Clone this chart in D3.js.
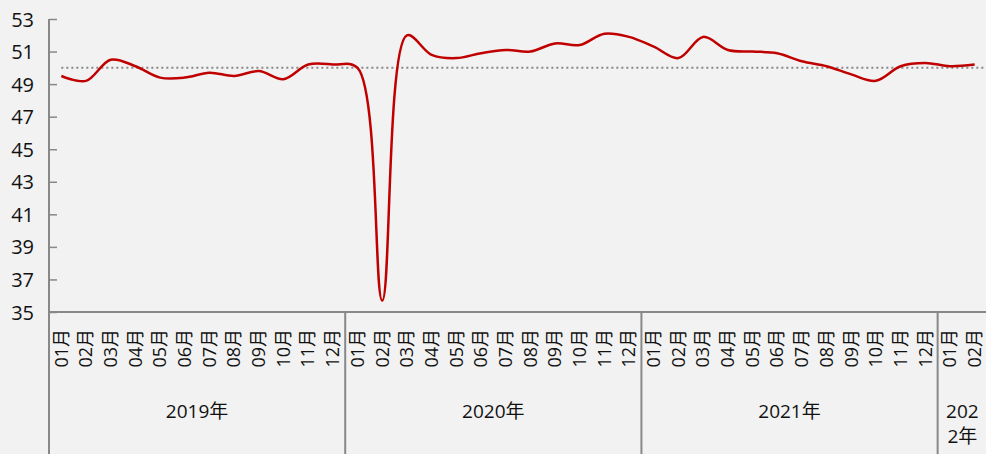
<!DOCTYPE html>
<meta charset="utf-8">
<style>
body { margin: 0; background: #f2f2f2; }
svg { display: block; background: #f2f2f2; }
text { font-family: "Open Sans", "Noto Sans CJK SC", sans-serif; fill: #111; }
</style>
<body>
<svg width="986" height="454"></svg>
<script src="https://d3js.org/d3.v7.min.js"></script>
<script>
var svg = d3.select("svg");

// monthly PMI values, 2019-01 .. 2022-02
var years = ["2019年", "2020年", "2021年", "2022年"];
var monthsPerYear = [12, 12, 12, 2];
var values = [
  49.5, 49.2, 50.5, 50.1, 49.4, 49.4, 49.7, 49.5, 49.8, 49.3, 50.2, 50.2,
  50.0, 35.7, 52.0, 50.8, 50.6, 50.9, 51.1, 51.0, 51.5, 51.4, 52.1, 51.9,
  51.3, 50.6, 51.9, 51.1, 51.0, 50.9, 50.4, 50.1, 49.6, 49.2, 50.1, 50.3,
  50.1, 50.2
];
var yTicks = [35, 37, 39, 41, 43, 45, 47, 49, 51, 53];
var refLine = 50;

// build month list
var months = [];
years.forEach(function(y, yi) {
  for (var m = 1; m <= monthsPerYear[yi]; m++) {
    months.push({ year: yi, label: (m < 10 ? "0" : "") + m + "月", key: yi + "-" + m });
  }
});

var plotLeft = 49, plotRight = 987, plotTop = 19, plotBottom = 312;

var x = d3.scaleBand()
    .domain(months.map(function(d) { return d.key; }))
    .range([plotLeft, plotRight]);

var y = d3.scaleLinear()
    .domain([35, 53])
    .range([plotBottom, plotTop]);

var cx = function(i) { return x(months[i].key) + x.bandwidth() / 2; };

// y axis
var yAxis = d3.axisRight(y).tickValues(yTicks).tickSize(8).tickFormat(d3.format("d"));
var gy = svg.append("g").attr("transform", "translate(" + plotLeft + ",0)").call(yAxis);
gy.select(".domain").remove();
gy.selectAll(".tick line").attr("stroke", "#888").attr("stroke-width", 1.5);
gy.selectAll(".tick text")
  .attr("x", -15).attr("dy", "0.35em")
  .attr("text-anchor", "end")
  .style("font-size", "20px");

svg.append("line")
  .attr("x1", plotLeft).attr("x2", plotLeft)
  .attr("y1", plotTop).attr("y2", 454)
  .attr("stroke", "#888").attr("stroke-width", 2);

// x axis line
svg.append("line")
  .attr("x1", plotLeft).attr("x2", 986)
  .attr("y1", plotBottom).attr("y2", plotBottom)
  .attr("stroke", "#888").attr("stroke-width", 2);

// year separators
var start = 0;
var yearPos = [];
monthsPerYear.forEach(function(n, yi) {
  var x0 = x(months[start].key);
  var x1 = x(months[start + n - 1].key) + x.bandwidth();
  yearPos.push({ x0: x0, x1: x1, label: years[yi] });
  if (yi > 0) {
    svg.append("line")
      .attr("x1", x0).attr("x2", x0)
      .attr("y1", plotBottom).attr("y2", 454)
      .attr("stroke", "#888").attr("stroke-width", 2);
  }
  start += n;
});

// month labels
svg.append("g").selectAll("text")
  .data(months)
  .enter().append("text")
  .attr("transform", function(d, i) { return "translate(" + cx(i) + ",329) rotate(-90)"; })
  .attr("text-anchor", "end")
  .attr("dy", "0.35em")
  .style("font-size", "18px")
  .text(function(d) { return d.label; });

// year labels
yearPos.forEach(function(p) {
  var mid = (p.x0 + p.x1) / 2;
  if (p.x1 - p.x0 > 100) {
    svg.append("text").attr("x", mid).attr("y", 418)
      .attr("text-anchor", "middle").style("font-size", "19px").text(p.label);
  } else {
    var t = svg.append("text").attr("text-anchor", "middle").style("font-size", "19px");
    t.append("tspan").attr("x", mid).attr("y", 418).text(p.label.slice(0, 3));
    t.append("tspan").attr("x", mid).attr("y", 443).text(p.label.slice(3));
  }
});

// reference line at 50
svg.append("line")
  .attr("x1", cx(0)).attr("x2", plotRight)
  .attr("y1", y(refLine)).attr("y2", y(refLine))
  .attr("stroke", "#888").attr("stroke-width", 2)
  .attr("stroke-dasharray", "2,3");

// PMI line
var line = d3.line()
  .x(function(d, i) { return cx(i); })
  .y(function(d) { return y(d); })
  .curve(d3.curveCatmullRom.alpha(0.5));

svg.append("path")
  .datum(values)
  .attr("d", line)
  .attr("fill", "none")
  .attr("stroke", "#c00000")
  .attr("stroke-width", 2.5);
</script>
</body>
</html>
